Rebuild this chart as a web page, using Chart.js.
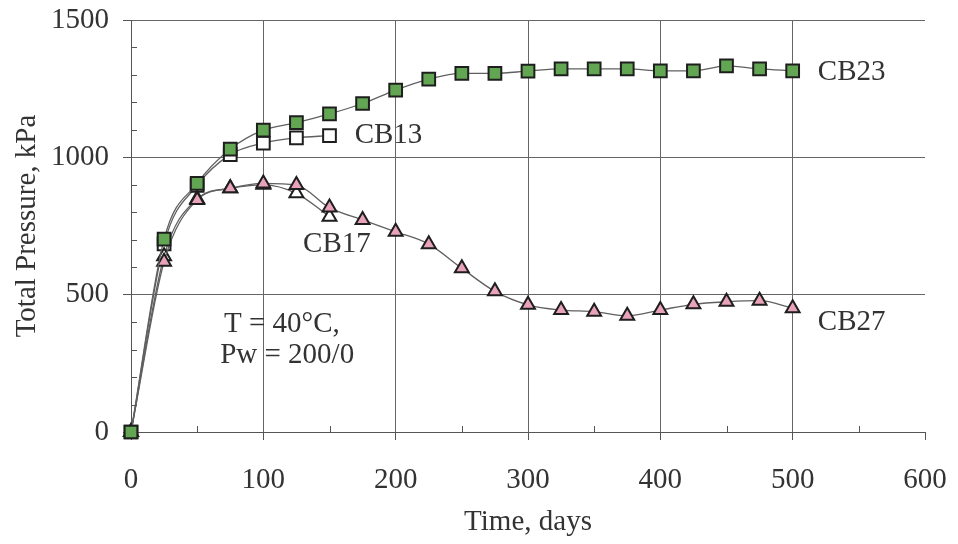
<!DOCTYPE html>
<html>
<head>
<meta charset="utf-8">
<script src="https://cdn.jsdelivr.net/npm/chart.js@4/dist/chart.umd.min.js"></script>
<style>
  html, body { margin: 0; padding: 0; background: #fff; }
  #wrap { width: 958px; height: 544px; }
</style>
</head>
<body>
<div id="wrap"><canvas id="pressureChart" width="958" height="544"></canvas></div>
<script>
// time in days
const daysLong = [0, 25, 50, 75, 100, 125, 150, 175, 200, 225, 250, 275, 300, 325, 350, 375, 400, 425, 450, 475, 500];
const daysShort = [0, 25, 50, 75, 100, 125, 150];

// total pressure, kPa
const cb23 = [0, 702, 905, 1030, 1099, 1126, 1158, 1196, 1245, 1285, 1306, 1306, 1314, 1322, 1322, 1322, 1315, 1315, 1333, 1322, 1315];
const cb13 = [0, 685, 898, 1010, 1052, 1071, 1079];
const cb17 = [0, 640, 848, 887, 900, 869, 784];
const cb27 = [0, 620, 845, 887, 905, 899, 817, 772, 729, 684, 596, 512, 463, 444, 438, 423, 444, 465, 474, 478, 451];

const xTicks = [0, 100, 200, 300, 400, 500, 600];
const yTicks = [0, 500, 1000, 1500];

const serif = '"Liberation Serif", "DejaVu Serif", serif';
const ink = '#333333';
const fontSize = 29;

function pts(xs, ys) {
    return xs.map((x, i) => ({ x: x, y: ys[i] }));
}

function series(label, data, style, fill) {
    return {
        label: label,
        data: data,
        showLine: true,
        clip: false,
        borderColor: '#606060',
        borderWidth: 1.3,
        cubicInterpolationMode: 'monotone',
        pointStyle: style,
        pointRadius: style === 'rect' ? 9 : 8,
        pointBackgroundColor: fill,
        pointBorderColor: '#1e1e1e',
        pointBorderWidth: 2
    };
}

// small inside ticks + series labels
const extras = {
    id: 'extras',
    afterDatasetsDraw(chart) {
        const c = chart.ctx;
        const xs = chart.scales.x, ys = chart.scales.y;
        c.save();
        c.strokeStyle = '#555';
        c.lineWidth = 1;
        c.beginPath();
        for (let d = 50; d < 600; d += 100) {
            const px = Math.round(xs.getPixelForValue(d)) + 0.5;
            c.moveTo(px, ys.bottom);
            c.lineTo(px, ys.bottom - 6);
        }
        for (let p = 100; p < 1500; p += 100) {
            if (p % 500 === 0) continue;
            const py = Math.round(ys.getPixelForValue(p)) + 0.5;
            c.moveTo(xs.left, py);
            c.lineTo(xs.left + 6, py);
        }
        c.stroke();

        c.fillStyle = ink;
        c.font = fontSize + 'px ' + serif;
        c.textBaseline = 'middle';
        c.textAlign = 'left';
        const put = (t, dx, dy) => c.fillText(t, xs.getPixelForValue(dx), ys.getPixelForValue(dy));
        put('CB23', 519, 1310);
        put('CB13', 169, 1080);
        put('CB17', 130, 683);
        put('CB27', 519, 400);
        c.textAlign = 'center';
        put('T = 40°C,', 114, 390);
        put('Pw = 200/0', 118, 280);
        c.restore();
    }
};

// first dataset ends up on top
new Chart(document.getElementById('pressureChart'), {
    type: 'scatter',
    data: {
        datasets: [
            series('CB23', pts(daysLong, cb23), 'rect', '#62a552'),
            series('CB27', pts(daysLong, cb27), 'triangle', '#e8a3b8'),
            series('CB17', pts(daysShort, cb17), 'triangle', '#ffffff'),
            series('CB13', pts(daysShort, cb13), 'rect', '#ffffff')
        ]
    },
    options: {
        responsive: false,
        animation: false,
        layout: { padding: { top: 20, right: 33, left: 0, bottom: 0 } },
        plugins: {
            legend: { display: false },
            tooltip: { enabled: false }
        },
        scales: {
            x: {
                type: 'linear',
                min: 0,
                max: 600,
                afterBuildTicks: s => { s.ticks = xTicks.map(v => ({ value: v })); },
                afterFit: s => { s.height = 112; s.paddingLeft = 0; s.paddingRight = 0; },
                border: { color: '#555', width: 1 },
                grid: {
                    color: ctx => (ctx.tick && ctx.tick.value === 600 ? 'rgba(0,0,0,0)' : '#666'),
                    tickColor: '#555',
                    tickLength: 8,
                    lineWidth: 1
                },
                ticks: {
                    color: ink,
                    font: { family: serif, size: fontSize },
                    padding: 23,
                    callback: v => String(v)
                },
                title: {
                    display: true,
                    text: 'Time, days',
                    color: ink,
                    font: { family: serif, size: fontSize },
                    padding: { top: 0, bottom: 4 }
                }
            },
            y: {
                type: 'linear',
                min: 0,
                max: 1500,
                afterBuildTicks: s => { s.ticks = yTicks.map(v => ({ value: v })); },
                afterFit: s => { s.width = 131; s.paddingTop = 0; s.paddingBottom = 0; },
                border: { color: '#555', width: 1 },
                grid: {
                    color: '#666',
                    tickColor: '#555',
                    tickLength: 8,
                    lineWidth: 1
                },
                ticks: {
                    color: ink,
                    font: { family: serif, size: fontSize },
                    padding: 14,
                    callback: v => String(v)
                },
                title: {
                    display: true,
                    text: 'Total Pressure, kPa',
                    color: ink,
                    font: { family: serif, size: fontSize },
                    padding: { top: 10, bottom: 0 }
                }
            }
        }
    },
    plugins: [extras]
});
</script>
</body>
</html>
